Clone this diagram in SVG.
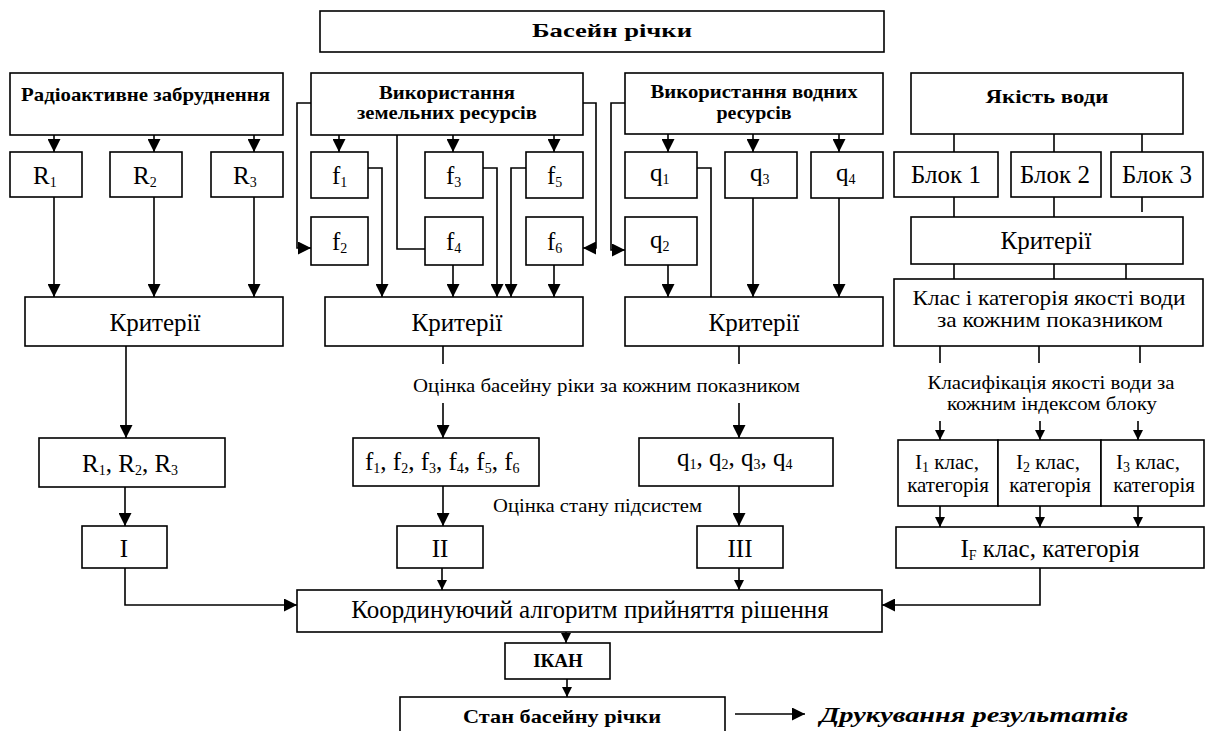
<svg xmlns="http://www.w3.org/2000/svg" width="1205" height="731" viewBox="0 0 1205 731" font-family="'Liberation Serif', 'Times New Roman', serif">
<defs>
<style>
.box{fill:#fff;stroke:#000;stroke-width:1.6}
.ln{fill:none;stroke:#000;stroke-width:1.6}
.a{marker-end:url(#ah)}
.sa{marker-end:url(#sh)}
text{font-family:'Liberation Serif','Times New Roman',serif;fill:#000}
.b{font-weight:bold;font-size:19px}
.r{font-size:25px}
.m{font-size:21px}
.s{font-size:19px}
.sub{font-size:14px}
.c{text-anchor:middle}
</style>
<marker id="ah" markerUnits="userSpaceOnUse" markerWidth="13" markerHeight="13" refX="13" refY="6.5" orient="auto"><path d="M0,0 L13,6.5 L0,13 z" fill="#000"/></marker>
<marker id="sh" markerUnits="userSpaceOnUse" markerWidth="10" markerHeight="10" refX="10" refY="5" orient="auto"><path d="M0,0 L10,5 L0,10 z" fill="#000"/></marker>
</defs>
<rect width="1205" height="731" fill="#fff"/>

<g id="connectors">
<path class="ln a" d="M54,135 V152"/><path class="ln a" d="M154,135 V152"/><path class="ln a" d="M254,135 V152"/>
<path class="ln a" d="M54,197 V297"/><path class="ln a" d="M154,197 V297"/><path class="ln a" d="M254,197 V297"/>
<path class="ln a" d="M126,346 V438"/>
<path class="ln a" d="M125,487 V526"/>
<path class="ln a" d="M125,568 V605 H297"/>

<path class="ln a" d="M339,135 V152"/><path class="ln a" d="M453,135 V152"/><path class="ln a" d="M554,135 V152"/>
<path class="ln a" d="M311,103 H297 V248 H311"/>
<path class="ln a" d="M583,103 H596 V248 H583"/>
<path class="ln" d="M397,135 V249 H425"/>
<path class="ln a" d="M368,168 H382 V297"/>
<path class="ln a" d="M483,168 H497 V297"/>
<path class="ln a" d="M526,168 H511 V297"/>
<path class="ln a" d="M453,265 V297"/>
<path class="ln a" d="M554,265 V297"/>
<path class="ln" d="M443,346 V364"/>
<path class="ln a" d="M443,403 V438"/>
<path class="ln a" d="M443,486 V526"/>
<path class="ln sa" d="M442,568 V590"/>

<path class="ln a" d="M668,134 V152"/><path class="ln a" d="M753,134 V152"/><path class="ln a" d="M839,134 V152"/>
<path class="ln a" d="M625,103 H611 V250 H625"/>
<path class="ln" d="M697,168 H711 V297"/>
<path class="ln a" d="M668,265 V297"/>
<path class="ln a" d="M753,198 V297"/>
<path class="ln a" d="M839,198 V297"/>
<path class="ln" d="M739,346 V364"/>
<path class="ln a" d="M739,403 V438"/>
<path class="ln a" d="M739,486 V526"/>
<path class="ln sa" d="M739,568 V590"/>

<path class="ln" d="M954,134 V152"/><path class="ln" d="M1054,134 V152"/><path class="ln" d="M1142,134 V152"/>
<path class="ln" d="M954,197 V217"/><path class="ln" d="M1054,197 V217"/><path class="ln" d="M1142,197 V212"/>
<path class="ln" d="M954,264 V279"/><path class="ln" d="M1054,264 V279"/><path class="ln" d="M1126,264 V279"/>
<path class="ln" d="M940,346 V363"/><path class="ln" d="M1039,346 V363"/><path class="ln" d="M1140,346 V363"/>
<path class="ln sa" d="M940,421 V440"/><path class="ln sa" d="M1040,421 V440"/><path class="ln sa" d="M1138,421 V440"/>
<path class="ln sa" d="M940,506 V527"/><path class="ln sa" d="M1040,506 V527"/><path class="ln sa" d="M1138,506 V527"/>
<path class="ln a" d="M1040,568 V605 H882"/>

<path class="ln sa" d="M566,632 V643"/>
<path class="ln sa" d="M567,679 V697"/>
<path class="ln a" d="M735,714 H805"/>
</g>

<g id="basin"><rect class="box" x="320" y="11" width="564" height="41"/><text class="b c" x="612" y="37" textLength="160" lengthAdjust="spacingAndGlyphs">Басейн річки</text></g>

<g id="radio"><rect class="box" x="10" y="73" width="273" height="62"/><text class="b" x="21" y="101" textLength="249" lengthAdjust="spacingAndGlyphs">Радіоактивне забруднення</text></g>
<g id="R1"><rect class="box" x="10" y="152" width="72" height="45"/><text class="r" x="33" y="184">R<tspan class="sub" dy="3">1</tspan></text></g>
<g id="R2"><rect class="box" x="110" y="152" width="72" height="45"/><text class="r" x="133" y="184">R<tspan class="sub" dy="3">2</tspan></text></g>
<g id="R3"><rect class="box" x="211" y="152" width="72" height="45"/><text class="r" x="233" y="184">R<tspan class="sub" dy="3">3</tspan></text></g>
<g id="crit1"><rect class="box" x="25" y="297" width="258" height="49"/><text class="r c" x="155" y="331">Критерії</text></g>
<g id="Rlist"><rect class="box" x="39" y="438" width="186" height="49"/><text class="r" x="82" y="472">R<tspan class="sub" dy="3">1</tspan><tspan dy="-3">, R</tspan><tspan class="sub" dy="3">2</tspan><tspan dy="-3">, R</tspan><tspan class="sub" dy="3">3</tspan></text></g>
<g id="I"><rect class="box" x="82" y="526" width="85" height="42"/><text class="r c" x="124" y="557">I</text></g>

<g id="land"><rect class="box" x="311" y="73" width="272" height="62"/><text class="b c" x="447" y="99" textLength="136" lengthAdjust="spacingAndGlyphs">Використання</text><text class="b c" x="447" y="119" textLength="180" lengthAdjust="spacingAndGlyphs">земельних ресурсів</text></g>
<g id="f1"><rect class="box" x="311" y="152" width="57" height="46"/><text class="r" x="332" y="184">f<tspan class="sub" dy="3">1</tspan></text></g>
<g id="f3"><rect class="box" x="425" y="152" width="58" height="46"/><text class="r" x="446" y="184">f<tspan class="sub" dy="3">3</tspan></text></g>
<g id="f5"><rect class="box" x="526" y="152" width="57" height="46"/><text class="r" x="547" y="184">f<tspan class="sub" dy="3">5</tspan></text></g>
<g id="f2"><rect class="box" x="311" y="217" width="57" height="48"/><text class="r" x="332" y="250">f<tspan class="sub" dy="3">2</tspan></text></g>
<g id="f4"><rect class="box" x="425" y="217" width="58" height="48"/><text class="r" x="446" y="250">f<tspan class="sub" dy="3">4</tspan></text></g>
<g id="f6"><rect class="box" x="526" y="217" width="57" height="48"/><text class="r" x="547" y="250">f<tspan class="sub" dy="3">6</tspan></text></g>
<g id="crit2"><rect class="box" x="325" y="297" width="258" height="49"/><text class="r c" x="457" y="331">Критерії</text></g>
<text id="lbl1" class="s" x="413" y="392" textLength="387" lengthAdjust="spacingAndGlyphs">Оцінка басейну ріки за кожним показником</text>
<g id="flist"><rect class="box" x="353" y="438" width="186" height="48"/><text class="r" x="365" y="470">f<tspan class="sub" dy="3">1</tspan><tspan dy="-3">, f</tspan><tspan class="sub" dy="3">2</tspan><tspan dy="-3">, f</tspan><tspan class="sub" dy="3">3</tspan><tspan dy="-3">, f</tspan><tspan class="sub" dy="3">4</tspan><tspan dy="-3">, f</tspan><tspan class="sub" dy="3">5</tspan><tspan dy="-3">, f</tspan><tspan class="sub" dy="3">6</tspan></text></g>
<text id="lbl2" class="s" x="493" y="512" textLength="209" lengthAdjust="spacingAndGlyphs">Оцінка стану підсистем</text>
<g id="II"><rect class="box" x="397" y="526" width="86" height="42"/><text class="r c" x="440" y="557">II</text></g>

<g id="water"><rect class="box" x="625" y="73" width="258" height="61"/><text class="b c" x="754" y="98" textLength="207" lengthAdjust="spacingAndGlyphs">Використання водних</text><text class="b c" x="754" y="119" textLength="75" lengthAdjust="spacingAndGlyphs">ресурсів</text></g>
<g id="q1"><rect class="box" x="625" y="152" width="72" height="46"/><text class="r" x="650" y="181">q<tspan class="sub" dy="3">1</tspan></text></g>
<g id="q3"><rect class="box" x="725" y="152" width="72" height="46"/><text class="r" x="750" y="181">q<tspan class="sub" dy="3">3</tspan></text></g>
<g id="q4"><rect class="box" x="811" y="152" width="72" height="46"/><text class="r" x="836" y="181">q<tspan class="sub" dy="3">4</tspan></text></g>
<g id="q2"><rect class="box" x="625" y="217" width="72" height="48"/><text class="r" x="650" y="248">q<tspan class="sub" dy="3">2</tspan></text></g>
<g id="crit3"><rect class="box" x="625" y="297" width="258" height="49"/><text class="r c" x="754" y="331">Критерії</text></g>
<g id="qlist"><rect class="box" x="639" y="438" width="194" height="48"/><text class="r" x="677" y="466">q<tspan class="sub" dy="3">1</tspan><tspan dy="-3">, q</tspan><tspan class="sub" dy="3">2</tspan><tspan dy="-3">, q</tspan><tspan class="sub" dy="3">3</tspan><tspan dy="-3">, q</tspan><tspan class="sub" dy="3">4</tspan></text></g>
<g id="III"><rect class="box" x="697" y="526" width="86" height="42"/><text class="r c" x="740" y="557">III</text></g>

<g id="quality"><rect class="box" x="911" y="73" width="272" height="61"/><text class="b c" x="1047" y="103" textLength="123" lengthAdjust="spacingAndGlyphs">Якість води</text></g>
<g id="blk1"><rect class="box" x="894" y="152" width="104" height="45"/><text class="r c" x="946" y="183">Блок 1</text></g>
<g id="blk2"><rect class="box" x="1011" y="152" width="90" height="45"/><text class="r c" x="1055" y="183">Блок 2</text></g>
<g id="blk3"><rect class="box" x="1111" y="152" width="92" height="45"/><text class="r c" x="1157" y="183">Блок 3</text></g>
<g id="crit4"><rect class="box" x="911" y="217" width="272" height="47"/><text class="r c" x="1046" y="249">Критерії</text></g>
<g id="klas"><rect class="box" x="894" y="279" width="309" height="67"/><text class="m c" x="1049" y="305" textLength="273" lengthAdjust="spacingAndGlyphs">Клас і категорія якості води</text><text class="m c" x="1050" y="327" textLength="226" lengthAdjust="spacingAndGlyphs">за кожним показником</text></g>
<g id="lbl3"><text class="s c" x="1051" y="389" textLength="247" lengthAdjust="spacingAndGlyphs">Класифікація якості води за</text><text class="s c" x="1052" y="410" textLength="210" lengthAdjust="spacingAndGlyphs">кожним індексом блоку</text></g>
<g id="I1"><rect class="box" x="898" y="440" width="100" height="66"/><text class="m c" x="947" y="469">I<tspan class="sub" dy="3">1</tspan><tspan dy="-3"> клас,</tspan></text><text class="m c" x="948" y="492">категорія</text></g>
<g id="I2"><rect class="box" x="998" y="440" width="103" height="66"/><text class="m c" x="1048" y="469">I<tspan class="sub" dy="3">2</tspan><tspan dy="-3"> клас,</tspan></text><text class="m c" x="1050" y="492">категорія</text></g>
<g id="I3"><rect class="box" x="1101" y="440" width="103" height="66"/><text class="m c" x="1148" y="469">I<tspan class="sub" dy="3">3</tspan><tspan dy="-3"> клас,</tspan></text><text class="m c" x="1154" y="492">категорія</text></g>
<g id="IF"><rect class="box" x="896" y="527" width="308" height="41"/><text class="r c" x="1050" y="557">I<tspan class="sub" dy="3">F</tspan><tspan dy="-3"> клас, категорія</tspan></text></g>

<g id="coord"><rect class="box" x="297" y="590" width="585" height="42"/><text class="r c" x="590" y="618">Координуючий алгоритм прийняття рішення</text></g>
<g id="ikan"><rect class="box" x="505" y="643" width="105" height="36"/><text class="b c" x="558" y="667">ІКАН</text></g>
<g id="stan"><rect class="box" x="400" y="697" width="325" height="45"/><text class="b c" x="562" y="723" font-size="21" textLength="198" lengthAdjust="spacingAndGlyphs">Стан басейну річки</text></g>
<text id="print" x="820" y="722" font-weight="bold" font-style="italic" font-size="21" textLength="308" lengthAdjust="spacingAndGlyphs">Друкування результатів</text>
</svg>
